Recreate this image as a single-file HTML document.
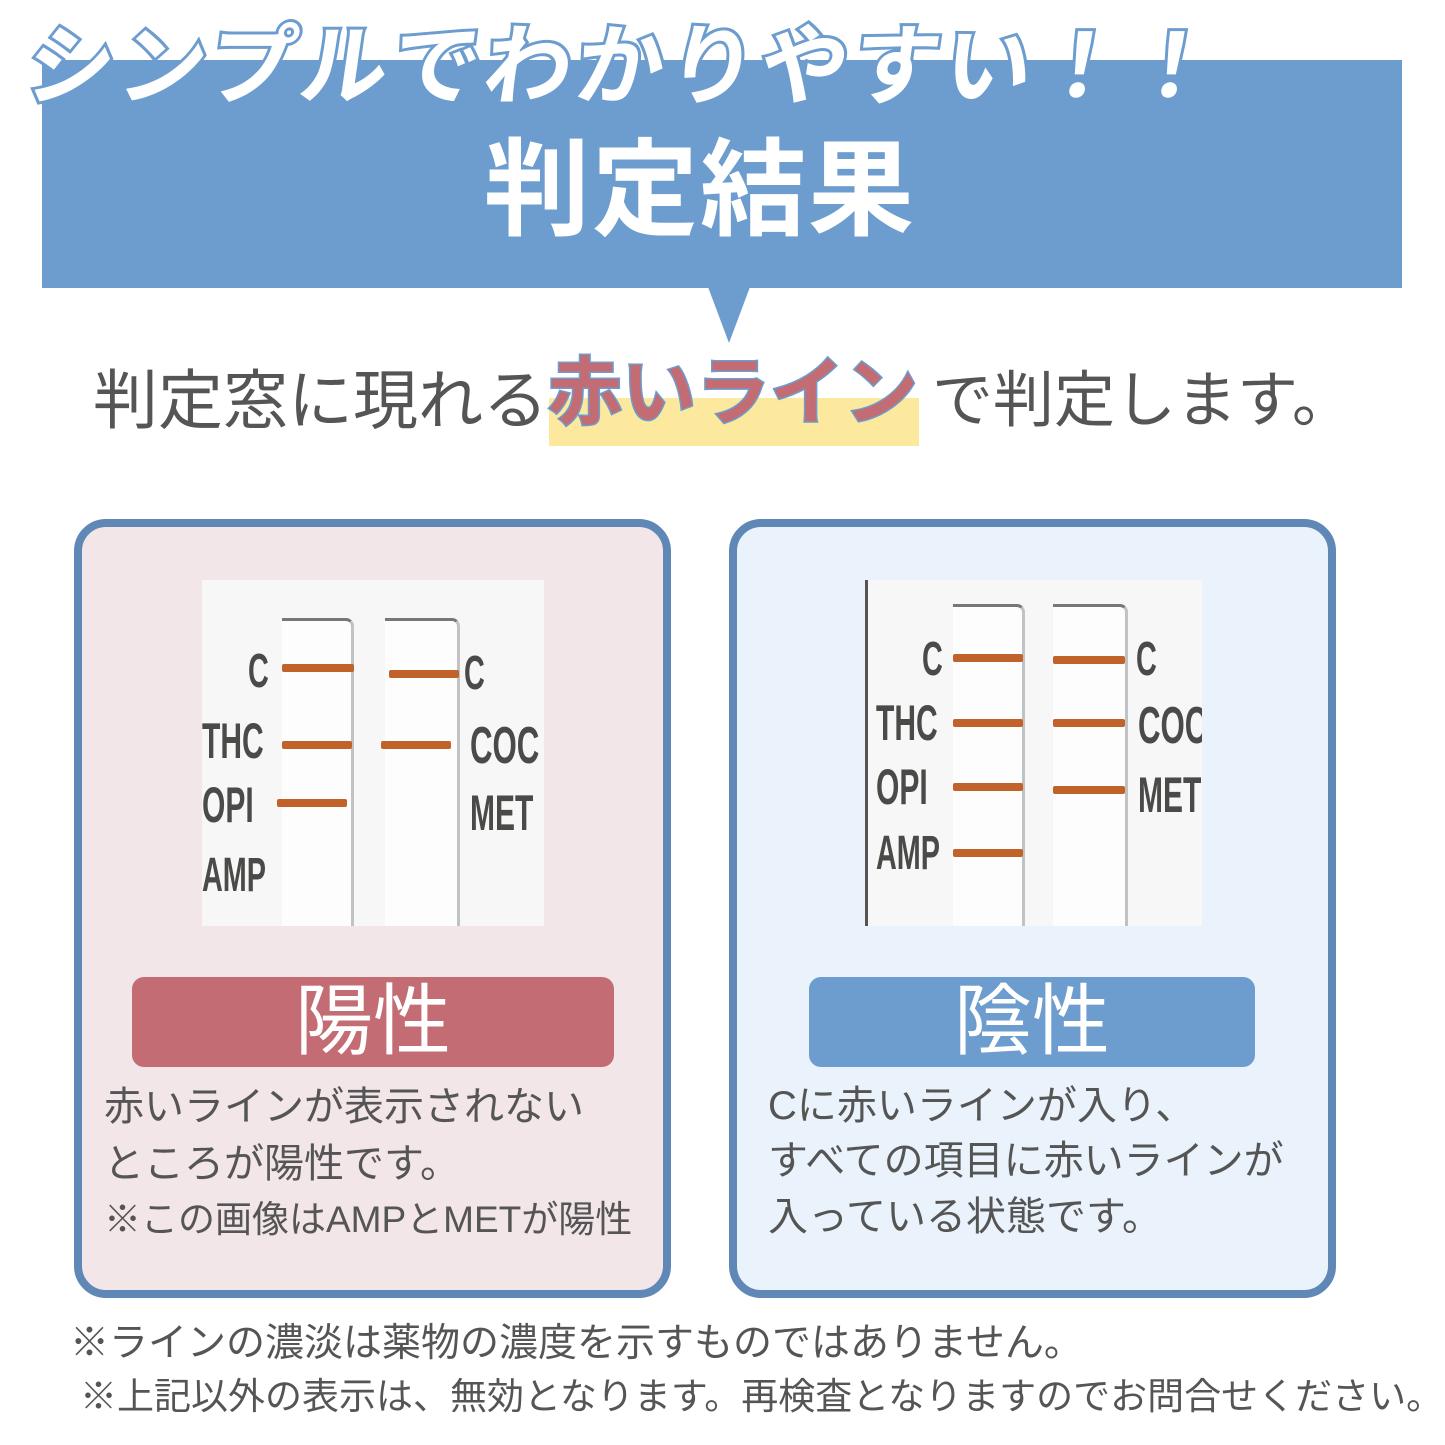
<!DOCTYPE html>
<html><head><meta charset="utf-8"><style>
*{margin:0;padding:0;box-sizing:border-box}
body{width:1445px;height:1445px;background:#fff;position:relative;overflow:hidden;font-family:"Liberation Sans","Noto Sans CJK JP",sans-serif}
.a{position:absolute;white-space:nowrap}
.card{position:absolute;border:8px solid #5f88b6;border-radius:32px}
.img{position:absolute;background:#f6f7f6;overflow:hidden}
.strip{position:absolute;background:#fdfdfd;border-right:3px solid #bfc3c6;border-top:3px solid #777;border-radius:0 8px 0 0}
.ln{position:absolute;height:8px;background:#c0622a;border-radius:2px}
.lb{position:absolute;color:#4a4a48;font-weight:bold;font-family:"Liberation Sans Narrow","Liberation Sans",sans-serif;transform:scaleX(.6);transform-origin:left top;line-height:1}
.txt{position:absolute;color:#555;font-size:40px;line-height:57px;white-space:nowrap}
</style></head><body>
<div class="a" style="left:42px;top:60px;width:1360px;height:228px;background:#6c9dce"></div>
<svg class="a" style="left:0;top:0" width="1445" height="460"><polygon points="708,287 750,287 729,343" fill="#6c9dce"/></svg>
<div class="a" style="left:28px;top:-4px;font-size:88px;font-weight:bold;color:#fff;-webkit-text-stroke:6px #6c9dce;paint-order:stroke fill;transform:skewX(-8deg);letter-spacing:4px">シンプルでわかりやすい！！</div>
<div class="a" style="left:484px;top:104px;font-size:106px;font-weight:bold;color:#fff;letter-spacing:2px">判定結果</div>
<div class="a" style="left:549px;top:398px;width:370px;height:48px;background:#fde99d"></div>
<div class="a" style="left:93px;top:348px;font-size:65px;color:#555">判定窓に現れる</div>
<div class="a" style="left:548px;top:333px;font-size:74px;font-weight:bold;color:#c46c73;-webkit-text-stroke:3px #6c9dce;paint-order:stroke fill">赤いライン</div>
<div class="a" style="left:932px;top:350px;font-size:61px;color:#555">で判定します。</div>

<div class="card" style="left:74px;top:519px;width:597px;height:779px;background:#f3e6e8"></div>
<div class="card" style="left:729px;top:519px;width:607px;height:779px;background:#eaf3fc"></div>

<div class="img" style="left:202px;top:580px;width:342px;height:346px">
 <div class="strip" style="left:80px;top:38px;width:72px;height:320px"></div>
 <div class="strip" style="left:183px;top:38px;width:75px;height:320px"></div>
 <div class="ln" style="left:80px;top:84px;width:72px"></div>
 <div class="ln" style="left:80px;top:161px;width:70px"></div>
 <div class="ln" style="left:75px;top:219px;width:70px"></div>
 <div class="ln" style="left:187px;top:90px;width:70px"></div>
 <div class="ln" style="left:179px;top:161px;width:70px"></div>
 <div class="lb" style="left:46px;top:68px;font-size:48px">C</div>
 <div class="lb" style="left:0;top:136px;font-size:50px">THC</div>
 <div class="lb" style="left:0;top:200px;font-size:50px">OPI</div>
 <div class="lb" style="left:0;top:272px;font-size:48px">AMP</div>
 <div class="lb" style="left:262px;top:70px;font-size:48px">C</div>
 <div class="lb" style="left:268px;top:140px;font-size:52px">COC</div>
 <div class="lb" style="left:268px;top:208px;font-size:50px">MET</div>
</div>

<div class="img" style="left:865px;top:580px;width:337px;height:346px;border-left:3px solid #555">
 <div class="strip" style="left:85px;top:24px;width:72px;height:330px"></div>
 <div class="strip" style="left:185px;top:24px;width:75px;height:330px"></div>
 <div class="ln" style="left:85px;top:74px;width:70px"></div>
 <div class="ln" style="left:85px;top:139px;width:70px"></div>
 <div class="ln" style="left:85px;top:203px;width:70px"></div>
 <div class="ln" style="left:85px;top:269px;width:70px"></div>
 <div class="ln" style="left:185px;top:76px;width:72px"></div>
 <div class="ln" style="left:185px;top:139px;width:72px"></div>
 <div class="ln" style="left:185px;top:206px;width:72px"></div>
 <div class="lb" style="left:54px;top:56px;font-size:48px">C</div>
 <div class="lb" style="left:8px;top:118px;font-size:50px">THC</div>
 <div class="lb" style="left:8px;top:182px;font-size:50px">OPI</div>
 <div class="lb" style="left:8px;top:250px;font-size:48px">AMP</div>
 <div class="lb" style="left:268px;top:56px;font-size:48px">C</div>
 <div class="lb" style="left:270px;top:120px;font-size:52px">COC</div>
 <div class="lb" style="left:270px;top:190px;font-size:50px">MET</div>
</div>

<div class="a" style="left:132px;top:977px;width:482px;height:90px;background:#c46c73;border-radius:12px;color:#fff;font-size:78px;text-align:center;line-height:88px">陽性</div>
<div class="a" style="left:809px;top:977px;width:446px;height:90px;background:#6c9dce;border-radius:12px;color:#fff;font-size:78px;text-align:center;line-height:88px">陰性</div>

<div class="txt" style="left:104px;top:1079px">赤いラインが表示されない</div>
<div class="txt" style="left:104px;top:1136px">ところが陽性です。</div>
<div class="txt" style="left:104px;top:1191px;font-size:37px">※この画像はAMPとMETが陽性</div>
<div class="txt" style="left:768px;top:1078px">Cに赤いラインが入り、</div>
<div class="txt" style="left:768px;top:1133px">すべての項目に赤いラインが</div>
<div class="txt" style="left:768px;top:1189px">入っている状態です。</div>

<div class="txt" style="left:70px;top:1315px;font-size:39px">※ラインの濃淡は薬物の濃度を示すものではありません。</div>
<div class="txt" style="left:80px;top:1368px;font-size:37px">※上記以外の表示は、無効となります。再検査となりますのでお問合せください。</div>
</body></html>
